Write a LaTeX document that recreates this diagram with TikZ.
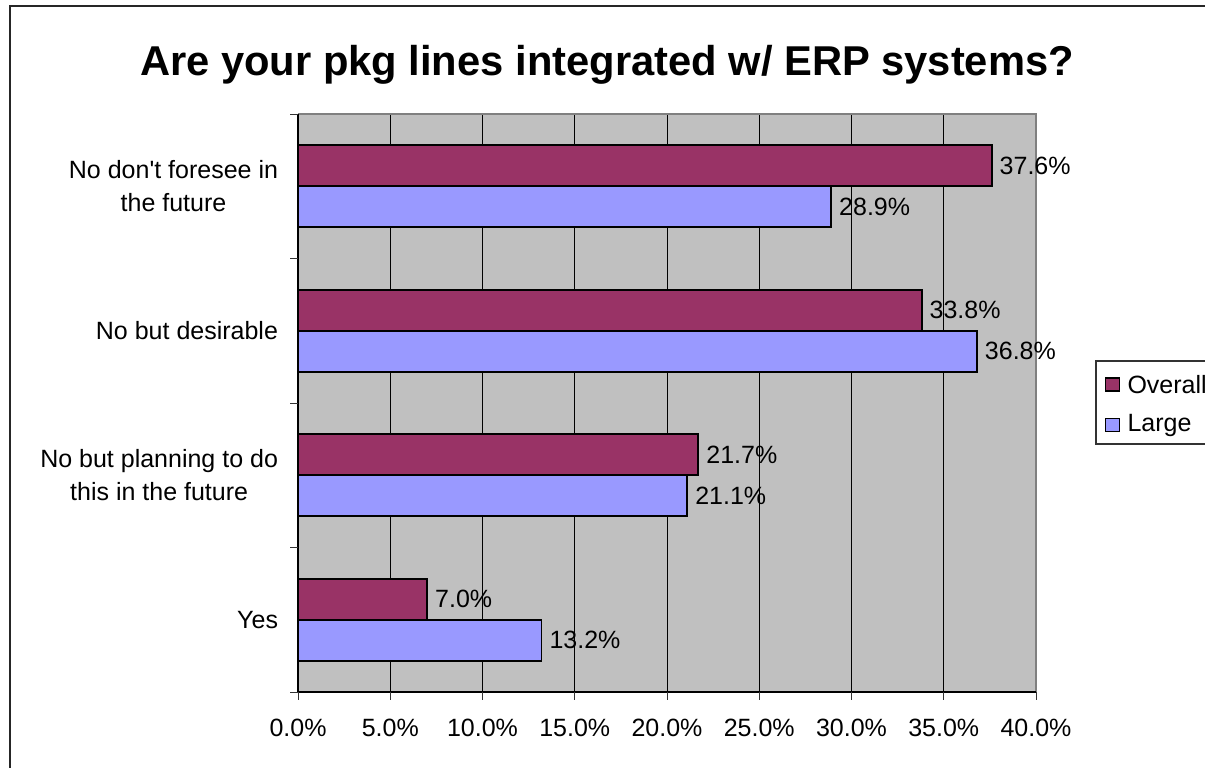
\documentclass[tikz,border=0pt]{standalone}
\usepackage{fontspec}
\setmainfont{Liberation Sans}
\usepackage{tikz}
\usetikzlibrary{positioning}
\definecolor{overallbar}{HTML}{993366}
\definecolor{largebar}{HTML}{9999FF}
\definecolor{plotbg}{HTML}{C0C0C0}
\definecolor{plotedge}{HTML}{808080}
\pgfmathsetmacro{\pctlen}{18.45}
\pgfmathsetmacro{\barlen}{41}
\newcommand{\charttext}{\fontsize{25}{33}\selectfont}

\begin{document}
\begin{tikzpicture}[x=1pt, y=-1pt,
    chart text/.style={font=\charttext, inner sep=0pt, outer sep=0pt},
    cat label/.style={chart text, align=center, anchor=east},
    bar/.style={draw=black, line width=1.8pt, inner sep=0pt, outer sep=0pt,
      minimum height=\barlen*1pt},
    overall bar/.style={bar, fill=overallbar, anchor=south west},
    large bar/.style={bar, fill=largebar, anchor=north west},
    key box/.style={draw=black, line width=1.6pt, inner sep=0pt, outer sep=0pt,
      minimum width=14pt, minimum height=13pt},
  ]
    \useasboundingbox (0,0) rectangle (1205,768);
    % outer frame (runs off the page at right and bottom)
    \draw[line width=2pt, black!85] (1205,6) -- (9.5,6) -- (9.5,768);
    % title
    \node[font=\bfseries\fontsize{41.7}{42}\selectfont, anchor=base, inner sep=0pt]
      (title) at (607,76) {Are your pkg lines integrated w/ ERP systems?};
    % plot area
    \coordinate (plot_nw) at (298,114);
    \coordinate (plot_se) at (1036,692);
    \fill[plotbg] (plot_nw) rectangle (plot_se);
    \foreach \p in {5,10,...,35}
        \draw[line width=1pt] (298+\p*\pctlen,114) -- (298+\p*\pctlen,692);
    \draw[line width=2pt, plotedge] (298,114) -- (1036,114) -- (1036,692);
    % axes and ticks
    \draw[line width=1.5pt] (298,114) -- (298,692) -- (1036,692);
    \foreach \y in {114,258.5,403,547.5,692}
        \draw[line width=1pt, black!80] (290,\y) -- (298,\y);
    \foreach \p in {0,5,...,40}
        \draw[line width=1pt, black!80] (298+\p*\pctlen,692) -- (298+\p*\pctlen,700);
    % category centres
    \coordinate (foresee) at (298,186.25);
    \coordinate (desirable) at (298,330.75);
    \coordinate (planning) at (298,475.25);
    \coordinate (yes) at (298,619.75);
    % bars
    \node[overall bar, minimum width=37.6*\pctlen*1pt] (foresee_overall) at (foresee) {};
    \node[large bar, minimum width=28.9*\pctlen*1pt] (foresee_large) at (foresee) {};
    \node[overall bar, minimum width=33.8*\pctlen*1pt] (desirable_overall) at (desirable) {};
    \node[large bar, minimum width=36.8*\pctlen*1pt] (desirable_large) at (desirable) {};
    \node[overall bar, minimum width=21.7*\pctlen*1pt] (planning_overall) at (planning) {};
    \node[large bar, minimum width=21.1*\pctlen*1pt] (planning_large) at (planning) {};
    \node[overall bar, minimum width=7.0*\pctlen*1pt] (yes_overall) at (yes) {};
    \node[large bar, minimum width=13.2*\pctlen*1pt] (yes_large) at (yes) {};
    % value labels
    \node[chart text, right=8pt of foresee_overall] {37.6\%};
    \node[chart text, right=8pt of foresee_large] {28.9\%};
    \node[chart text, right=8pt of desirable_overall] {33.8\%};
    \node[chart text, right=8pt of desirable_large] {36.8\%};
    \node[chart text, right=8pt of planning_overall] {21.7\%};
    \node[chart text, right=8pt of planning_large] {21.1\%};
    \node[chart text, right=8pt of yes_overall] {7.0\%};
    \node[chart text, right=8pt of yes_large] {13.2\%};
    % category labels
    \node[cat label, left=20pt of foresee] {No don\textquotesingle t foresee in\\the future};
    \node[cat label, left=20pt of desirable] {No but desirable};
    \node[cat label, left=20pt of planning] {No but planning to do\\this in the future};
    \node[cat label, left=20pt of yes] {Yes};
    % x axis labels
    \foreach \p/\t in {0/0.0,5/5.0,10/10.0,15/15.0,20/20.0,25/25.0,30/30.0,35/35.0,40/40.0}
        \node[chart text] at (298+\p*\pctlen,728) {\t\%};
    % legend (runs off the page at right)
    \draw[line width=1.5pt, black!80] (1205,361) -- (1096,361) -- (1096,444) -- (1205,444);
    \node[key box, fill=overallbar] (key_overall) at (1112.5,384.5) {};
    \node[key box, fill=largebar] (key_large) at (1112.5,425) {};
    \node[chart text, right=8pt of key_overall] {Overall};
    \node[chart text, right=8pt of key_large] {Large};
\end{tikzpicture}
\end{document}
